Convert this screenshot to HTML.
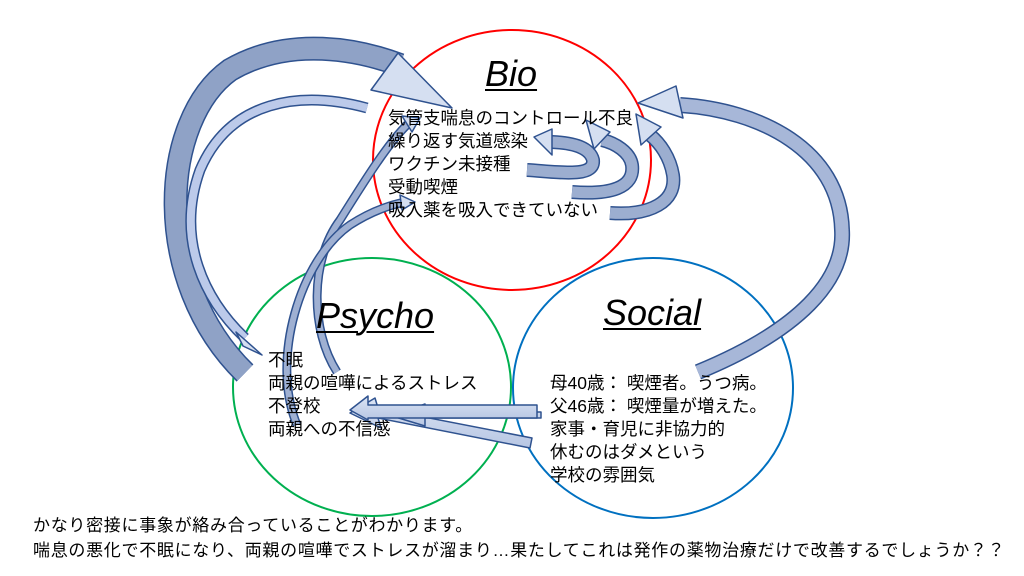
<!DOCTYPE html>
<html><head><meta charset="utf-8"><style>
html,body{margin:0;padding:0;background:#fff;}
body{width:1024px;height:576px;overflow:hidden;position:relative;font-family:"Liberation Sans","Noto Sans CJK JP",sans-serif;}
svg{position:absolute;left:0;top:0;}
.t{position:absolute;font-size:17.5px;line-height:23px;color:#000;white-space:nowrap;}
.h{position:absolute;font-style:italic;text-decoration:underline;text-decoration-thickness:2px;text-underline-offset:3px;font-size:36px;line-height:40px;white-space:nowrap;}
</style></head><body>
<svg width="1024" height="576" viewBox="0 0 1024 576">
<defs>
<linearGradient id="g" x1="0" y1="0" x2="0" y2="1"><stop offset="0" stop-color="#dbe4f4"/><stop offset="1" stop-color="#b7c6e3"/></linearGradient>
</defs>
<ellipse cx="512" cy="160" rx="139" ry="130" fill="none" stroke="#ff0000" stroke-width="2"/>
<ellipse cx="372" cy="387" rx="139" ry="129" fill="none" stroke="#00b050" stroke-width="2"/>
<ellipse cx="653" cy="388" rx="140" ry="130" fill="none" stroke="#0070c0" stroke-width="2"/>
<g stroke-linejoin="round">
<path d="M245,373 C150,280 160,120 230,70 C290,35 360,50 400,65" fill="none" stroke="#2f528f" stroke-width="24"/>
<path d="M245,373 C150,280 160,120 230,70 C290,35 360,50 400,65" fill="none" stroke="#8fa2c6" stroke-width="21"/>
<path d="M398,53 L452,108 L371,90 Z" fill="#d5dff1" stroke="#2f528f" stroke-width="1.5"/>
<path d="M367,108 C300,90 230,100 200,170 C175,240 205,300 245,338" fill="none" stroke="#2f528f" stroke-width="11"/>
<path d="M367,108 C300,90 230,100 200,170 C175,240 205,300 245,338" fill="none" stroke="#bccaea" stroke-width="8"/>
<path d="M236,332 L262,355 L243,346 Z" fill="#d5dff1" stroke="#2f528f" stroke-width="1.5"/>
<path d="M337,372 C310,330 310,260 340,220 C365,180 390,140 410,122" fill="none" stroke="#2f528f" stroke-width="9"/>
<path d="M337,372 C310,330 310,260 340,220 C365,180 390,140 410,122" fill="none" stroke="#9fb0d2" stroke-width="6"/>
<path d="M402,116 L420,118 L412,132 Z" fill="#d5dff1" stroke="#2f528f" stroke-width="1.5"/>
<path d="M297,425 C270,360 300,260 350,225 C370,212 390,205 405,202" fill="none" stroke="#2f528f" stroke-width="9"/>
<path d="M297,425 C270,360 300,260 350,225 C370,212 390,205 405,202" fill="none" stroke="#9fb0d2" stroke-width="6"/>
<path d="M400,195 L415,202 L402,210 Z" fill="#d5dff1" stroke="#2f528f" stroke-width="1.5"/>
<path d="M527,170 C560,172 595,178 593,160 C590,148 575,143 552,142" fill="none" stroke="#2f528f" stroke-width="14"/>
<path d="M527,170 C560,172 595,178 593,160 C590,148 575,143 552,142" fill="none" stroke="#9caed0" stroke-width="11"/>
<path d="M534,137 L552,129 L552,155 Z" fill="#d5dff1" stroke="#2f528f" stroke-width="1.5"/>
<path d="M572,192 C610,195 635,188 632,165 C630,152 615,143 602,140" fill="none" stroke="#2f528f" stroke-width="14"/>
<path d="M572,192 C610,195 635,188 632,165 C630,152 615,143 602,140" fill="none" stroke="#9caed0" stroke-width="11"/>
<path d="M586,120 L610,132 L594,149 Z" fill="#d5dff1" stroke="#2f528f" stroke-width="1.5"/>
<path d="M610,213 C650,216 677,202 673,175 C670,157 660,143 650,135" fill="none" stroke="#2f528f" stroke-width="14"/>
<path d="M610,213 C650,216 677,202 673,175 C670,157 660,143 650,135" fill="none" stroke="#9caed0" stroke-width="11"/>
<path d="M636,114 L661,127 L641,145 Z" fill="#d5dff1" stroke="#2f528f" stroke-width="1.5"/>
<path d="M698,372 C800,330 845,280 842,230 C840,150 760,110 680,105" fill="none" stroke="#2f528f" stroke-width="16"/>
<path d="M698,372 C800,330 845,280 842,230 C840,150 760,110 680,105" fill="none" stroke="#a7b7d8" stroke-width="13"/>
<path d="M676,86 L638,103 L683,118 Z" fill="#d5dff1" stroke="#2f528f" stroke-width="1.5"/>
<path d="M530,448 L378,418 L381,428 L350,413 L375,398 L378,408 L532,438 Z" fill="url(#g)" stroke="#2f528f" stroke-width="1.5"/>
<path d="M541,418 L425,418 L425,426 L392,416 L425,404 L425,412 L541,412 Z" fill="url(#g)" stroke="#2f528f" stroke-width="1.5"/>
<path d="M537,405 L368,405 L368,396 L350,410 L368,420 L368,418 L537,418 Z" fill="url(#g)" stroke="#2f528f" stroke-width="1.5"/>
</g>
</svg>
<div class="h" style="left:485px;top:54px;">Bio</div>
<div class="t" style="left:388px;top:107px;">気管支喘息のコントロール不良<br>繰り返す気道感染<br>ワクチン未接種<br>受動喫煙<br>吸入薬を吸入できていない</div>
<div class="h" style="left:316px;top:296px;">Psycho</div>
<div class="t" style="left:268px;top:349px;">不眠<br>両親の喧嘩によるストレス<br>不登校<br>両親への不信感</div>
<div class="h" style="left:603px;top:293px;">Social</div>
<div class="t" style="left:550px;top:372px;">母40歳：&nbsp;喫煙者。うつ病。<br>父46歳：&nbsp;喫煙量が増えた。<br>家事・育児に非協力的<br>休むのはダメという<br>学校の雰囲気</div>
<div class="t" style="left:33px;top:513px;font-size:17px;line-height:25px;letter-spacing:0.7px;">かなり密接に事象が絡み合っていることがわかります。<br>喘息の悪化で不眠になり、両親の喧嘩でストレスが溜まり…果たしてこれは発作の薬物治療だけで改善するでしょうか？？</div>
</body></html>
